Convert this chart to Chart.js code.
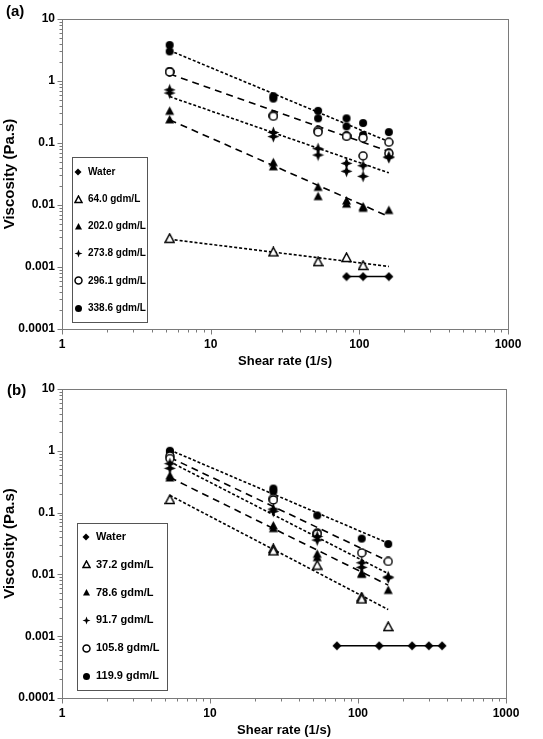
<!DOCTYPE html>
<html>
<head>
<meta charset="utf-8">
<script src="https://cdn.jsdelivr.net/npm/chart.js"></script>
<style>
  html, body { margin: 0; padding: 0; background: #fff; }
  body { width: 543px; height: 739px; position: relative; overflow: hidden;
         font-family: "Liberation Sans", Arial, sans-serif; }
  .panel { position: absolute; left: 0; width: 543px; }
  .tag { position: absolute; font-weight: bold; font-size: 15px; color: #000; }
</style>
</head>
<body>
<div class="panel" style="top:0;height:370px"><canvas id="chartA" width="543" height="370"></canvas></div>
<div class="tag" style="left:6px;top:2px">(a)</div>
<div class="panel" style="top:370px;height:369px"><canvas id="chartB" width="543" height="369"></canvas></div>
<div class="tag" style="left:7px;top:381px">(b)</div>
<script>
/* global Chart */

// ---------------------- Data: panel (a) ----------------------

const waterA_x = [82, 106, 158];
const waterA_y = [0.0007, 0.0007, 0.0007];

const a640_x = [5.3, 26.4, 52.8, 82, 106];
const a640_y = [0.0029, 0.00175, 0.00122, 0.00142, 0.00106];

const a2020_x = [5.3, 5.3, 26.4, 26.4, 52.8, 52.8, 82, 82, 106, 106, 158];
const a2020_y = [0.33, 0.24, 0.049, 0.042, 0.0196, 0.0139, 0.0118, 0.0105, 0.0095, 0.009, 0.0083];

const a2738_x = [5.3, 5.3, 26.4, 26.4, 52.8, 52.8, 82, 82, 106, 106, 158, 158];
const a2738_y = [0.72, 0.64, 0.148, 0.127, 0.081, 0.064, 0.047, 0.035, 0.043, 0.029, 0.06, 0.058];

const a2961_x = [5.3, 5.3, 26.4, 26.4, 52.8, 52.8, 82, 82, 106, 106, 158, 158];
const a2961_y = [1.42, 1.4, 0.28, 0.27, 0.16, 0.15, 0.13, 0.128, 0.12, 0.062, 0.103, 0.068];

const a3386_x = [5.3, 5.3, 26.4, 26.4, 52.8, 52.8, 82, 82, 106, 106, 158, 158];
const a3386_y = [3.8, 3.0, 0.57, 0.52, 0.33, 0.25, 0.25, 0.185, 0.21, 0.135, 0.15, 0.07];

// fitted power-law lines, read at their two ends
const fitA_x = [5.3, 158];
const fitA640 = [0.0028, 0.00102];
const fitA2020 = [0.236, 0.0065];
const fitA2738 = [0.56, 0.033];
const fitA2961 = [1.3, 0.073];
const fitA3386 = [3.1, 0.105];

// ---------------------- Data: panel (b) ----------------------

const waterB_x = [72, 139, 232, 301, 370];
const waterB_y = [0.0007, 0.0007, 0.0007, 0.0007, 0.0007];

const b372_x = [5.36, 26.8, 26.8, 53, 106, 106, 160];
const b372_y = [0.163, 0.026, 0.024, 0.0141, 0.0043, 0.004, 0.00143];

const b786_x = [5.36, 5.36, 26.8, 26.8, 53, 53, 106, 106, 160];
const b786_y = [0.4, 0.37, 0.062, 0.056, 0.0215, 0.019, 0.0105, 0.0102, 0.0056];

const b917_x = [5.36, 5.36, 26.8, 26.8, 53, 53, 106, 106, 160, 160];
const b917_y = [0.62, 0.52, 0.114, 0.105, 0.041, 0.036, 0.0154, 0.013, 0.0091, 0.0088];

const b1058_x = [5.36, 5.36, 26.8, 26.8, 53, 53, 106, 160];
const b1058_y = [0.82, 0.75, 0.17, 0.16, 0.047, 0.045, 0.0223, 0.0162];

const b1199_x = [5.36, 5.36, 26.8, 26.8, 53, 106, 160];
const b1199_y = [1.0, 0.95, 0.245, 0.22, 0.09, 0.038, 0.031];

const fitB_x = [5.36, 160];
const fitB372 = [0.19, 0.0027];
const fitB786 = [0.37, 0.0067];
const fitB917 = [0.665, 0.0103];
const fitB1058 = [0.78, 0.0164];
const fitB1199 = [1.03, 0.032];

const yDecades = [0.0001, 0.001, 0.01, 0.1, 1, 10];
const xDecades = [1, 10, 100, 1000];

// ---------------------- Markers ----------------------

function makeMarker(kind, size) {
  const c = document.createElement("canvas");
  c.width = c.height = size;
  const g = c.getContext("2d");
  const m = size / 2, r = size / 2 - 1;
  g.fillStyle = "#000";
  g.strokeStyle = "#000";
  g.lineWidth = 1.5;
  g.beginPath();
  if (kind === "circle" || kind === "ring") {
    g.arc(m, m, r, 0, Math.PI * 2);
  } else if (kind === "tri" || kind === "triOpen") {
    g.moveTo(m, 1);
    g.lineTo(size - 1, size - 1.5);
    g.lineTo(1, size - 1.5);
    g.closePath();
  } else if (kind === "diamond") {
    g.moveTo(m, 0.5);
    g.lineTo(size - 0.5, m);
    g.lineTo(m, size - 0.5);
    g.lineTo(0.5, m);
    g.closePath();
  } else if (kind === "star") {
    for (let i = 0; i < 8; i++) {
      const ang = i * Math.PI / 4 - Math.PI / 2;
      const rad = (i % 2) ? r * 0.42 : r + 0.5;
      const px = m + rad * Math.cos(ang), py = m + rad * Math.sin(ang);
      if (i === 0) g.moveTo(px, py); else g.lineTo(px, py);
    }
    g.closePath();
  }
  if (kind === "ring" || kind === "triOpen") {
    g.fillStyle = "#fff";
    g.fill();
    g.stroke();
  } else {
    g.fill();
  }
  return c;
}

const MK = {
  diamond: makeMarker("diamond", 10), triOpen: makeMarker("triOpen", 11), tri: makeMarker("tri", 11),
  star: makeMarker("star", 13), ring: makeMarker("ring", 10), circle: makeMarker("circle", 10)
};
const MKL = {
  diamond: makeMarker("diamond", 8), triOpen: makeMarker("triOpen", 9), tri: makeMarker("tri", 9),
  star: makeMarker("star", 9), ring: makeMarker("ring", 9), circle: makeMarker("circle", 9)
};

// ---------------------- Helpers ----------------------

const pts = (xs, ys) => xs.map((x, i) => ({ x, y: ys[i] }));

const marks = (label, xs, ys, marker) => ({
  label, data: pts(xs, ys), showLine: false, order: 1,
  pointStyle: marker, pointRadius: 5, pointHoverRadius: 5
});

const fitLine = (xs, ys, dash) => ({
  data: pts(xs, ys), showLine: true, order: 2,
  borderColor: "#000", borderWidth: 1.6, borderDash: dash,
  pointRadius: 0, fill: false
});

const waterLine = (xs, ys) => ({
  label: "Water", data: pts(xs, ys), showLine: true, order: 1,
  borderColor: "#000", borderWidth: 1.5, pointStyle: MK.diamond, pointRadius: 5
});

const SHORT = [3, 2];
const LONG = [7, 5];
const FONT = "'Liberation Sans', Arial, sans-serif";

// frame + log ticks drawn around the chart area
const frameTicks = {
  id: "frameTicks",
  beforeDatasetsDraw(chart) {
    const { ctx, chartArea: a, scales: { x, y } } = chart;
    ctx.save();
    ctx.strokeStyle = "#7a7a7a";
    ctx.lineWidth = 1;
    const L = Math.round(a.left) + 0.5, R = Math.round(a.right) + 0.5;
    const T = Math.round(a.top) + 0.5, B = Math.round(a.bottom) + 0.5;
    ctx.strokeRect(L, T, R - L, B - T);
    ctx.beginPath();
    for (let e = -4; e <= 1; e++) {
      for (let k = 1; k <= 9; k++) {
        const v = k * Math.pow(10, e);
        if (v > 10.0001) break;
        const py = Math.round(y.getPixelForValue(v)) + 0.5;
        const len = k === 1 ? 5 : 3;
        ctx.moveTo(L - len, py); ctx.lineTo(L, py);
      }
    }
    for (let e = 0; e <= 3; e++) {
      for (let k = 1; k <= 9; k++) {
        const v = k * Math.pow(10, e);
        if (v > 1000.001) break;
        const px = Math.round(x.getPixelForValue(v)) + 0.5;
        const len = k === 1 ? 5 : 3;
        ctx.moveTo(px, B); ctx.lineTo(px, B + len);
      }
    }
    ctx.stroke();
    ctx.restore();
  }
};

function boxLegend(items, box) {
  return {
    id: "boxLegend",
    afterDraw(chart) {
      const ctx = chart.ctx;
      ctx.save();
      ctx.fillStyle = "#fff";
      ctx.fillRect(box.x, box.y, box.w, box.h);
      ctx.strokeStyle = "#555";
      ctx.lineWidth = 1;
      ctx.strokeRect(box.x + 0.5, box.y + 0.5, box.w, box.h);
      ctx.font = box.font;
      ctx.textBaseline = "middle";
      ctx.fillStyle = "#000";
      items.forEach((it, i) => {
        const yy = box.first + i * box.step;
        ctx.drawImage(it.marker, Math.round(box.mx - it.marker.width / 2), Math.round(yy - it.marker.height / 2));
        ctx.fillText(it.label, box.tx, yy);
      });
      ctx.restore();
    }
  };
}

function logOptions(padRight) {
  return {
    responsive: false,
    animation: false,
    events: [],
    layout: { padding: { top: 19, right: padRight, left: 0, bottom: 0 } },
    plugins: { legend: { display: false }, tooltip: { enabled: false } },
    scales: {
      x: {
        type: "logarithmic", min: 1, max: 1000,
        afterBuildTicks: (s) => { s.ticks = xDecades.map(v => ({ value: v })); },
        afterFit: (s) => { s.height = 41; },
        grid: { display: false, drawTicks: false },
        border: { display: false },
        ticks: { callback: (v) => String(v), autoSkip: false, maxRotation: 0, padding: 8,
                 color: "#000", font: { family: FONT, size: 12, weight: "bold" } },
        title: { display: true, text: "Shear rate (1/s)", color: "#000", padding: { top: 2, bottom: 1 },
                 font: { family: FONT, size: 13, weight: "bold" } }
      },
      y: {
        type: "logarithmic", min: 0.0001, max: 10,
        afterBuildTicks: (s) => { s.ticks = yDecades.map(v => ({ value: v })); },
        afterFit: (s) => { s.width = 62; },
        grid: { display: false, drawTicks: false },
        border: { display: false },
        ticks: { callback: (v) => String(v), autoSkip: false, padding: 7,
                 color: "#000", font: { family: FONT, size: 12, weight: "bold" } },
        title: { display: true, text: "Viscosity (Pa.s)", color: "#000", padding: { top: 1, bottom: 0 },
                 font: { family: FONT, size: 15, weight: "bold" } }
      }
    }
  };
}

// ---------------------- Panel (a) ----------------------

new Chart(document.getElementById("chartA"), {
  type: "scatter",
  data: {
    datasets: [
      waterLine(waterA_x, waterA_y),
      marks("64.0 gdm/L", a640_x, a640_y, MK.triOpen),
      marks("202.0 gdm/L", a2020_x, a2020_y, MK.tri),
      marks("273.8 gdm/L", a2738_x, a2738_y, MK.star),
      marks("296.1 gdm/L", a2961_x, a2961_y, MK.ring),
      marks("338.6 gdm/L", a3386_x, a3386_y, MK.circle),
      fitLine(fitA_x, fitA640, SHORT),
      fitLine(fitA_x, fitA2020, LONG),
      fitLine(fitA_x, fitA2738, SHORT),
      fitLine(fitA_x, fitA2961, LONG),
      fitLine(fitA_x, fitA3386, SHORT)
    ]
  },
  options: logOptions(35),
  plugins: [frameTicks, boxLegend([
    { label: "Water", marker: MKL.diamond },
    { label: "64.0 gdm/L", marker: MKL.triOpen },
    { label: "202.0 gdm/L", marker: MKL.tri },
    { label: "273.8 gdm/L", marker: MKL.star },
    { label: "296.1 gdm/L", marker: MKL.ring },
    { label: "338.6 gdm/L", marker: MKL.circle }
  ], { x: 72, y: 157, w: 75, h: 165, first: 172, step: 27.2, mx: 78, tx: 88,
       font: "bold 10px " + FONT })]
});

// ---------------------- Panel (b) ----------------------

new Chart(document.getElementById("chartB"), {
  type: "scatter",
  data: {
    datasets: [
      waterLine(waterB_x, waterB_y),
      marks("37.2 gdm/L", b372_x, b372_y, MK.triOpen),
      marks("78.6 gdm/L", b786_x, b786_y, MK.tri),
      marks("91.7 gdm/L", b917_x, b917_y, MK.star),
      marks("105.8 gdm/L", b1058_x, b1058_y, MK.ring),
      marks("119.9 gdm/L", b1199_x, b1199_y, MK.circle),
      fitLine(fitB_x, fitB372, SHORT),
      fitLine(fitB_x, fitB786, LONG),
      fitLine(fitB_x, fitB917, SHORT),
      fitLine(fitB_x, fitB1058, LONG),
      fitLine(fitB_x, fitB1199, SHORT)
    ]
  },
  options: logOptions(37),
  plugins: [frameTicks, boxLegend([
    { label: "Water", marker: MKL.diamond },
    { label: "37.2 gdm/L", marker: MKL.triOpen },
    { label: "78.6 gdm/L", marker: MKL.tri },
    { label: "91.7 gdm/L", marker: MKL.star },
    { label: "105.8 gdm/L", marker: MKL.ring },
    { label: "119.9 gdm/L", marker: MKL.circle }
  ], { x: 77, y: 153, w: 90, h: 167, first: 167, step: 27.8, mx: 86, tx: 96,
       font: "bold 11px " + FONT })]
});
</script>
</body>
</html>
